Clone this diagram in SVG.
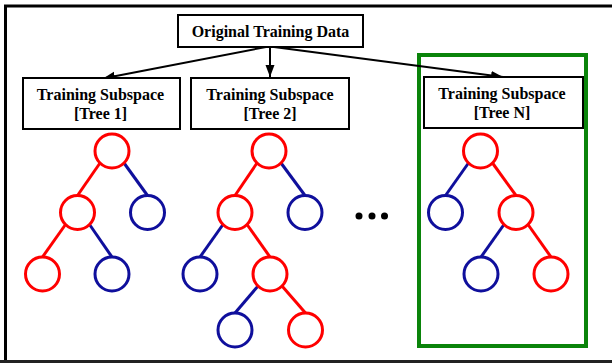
<svg xmlns="http://www.w3.org/2000/svg" width="612" height="363" viewBox="0 0 612 363">
<style>
.box{fill:#fff;stroke:#000;stroke-width:2}
.t{font-family:"Liberation Serif","Times New Roman",serif;font-weight:bold;font-size:16px;fill:#000;text-anchor:middle}
.r{fill:#fff;stroke:#ff0000;stroke-width:3}
.b{fill:#fff;stroke:#0f0f9c;stroke-width:3}
.er{stroke:#ff0000;stroke-width:3;fill:none}
.eb{stroke:#0f0f9c;stroke-width:3;fill:none}
.arr{stroke:#000;stroke-width:2;fill:none;marker-end:url(#ah)}
</style>
<defs>
<marker id="ah" markerUnits="userSpaceOnUse" markerWidth="13" markerHeight="10" refX="12" refY="4.5" orient="auto">
<path d="M0,0 L12,4.5 L0,9 z" fill="#000"/>
</marker>
</defs>
<rect width="612" height="363" fill="#fff"/>
<path d="M5.5,363 V6 H612" fill="none" stroke="#000" stroke-width="3"/>
<line x1="0" y1="361.5" x2="612" y2="361.5" stroke="#222" stroke-width="3"/>
<rect id="frame" x="419" y="55" width="167" height="291" fill="none" stroke="#0a840a" stroke-width="4"/>
<g id="connectors">
<line class="arr" x1="266" y1="47" x2="103" y2="78.5"/>
<line class="arr" x1="270" y1="47" x2="270" y2="77"/>
<line class="arr" x1="274" y1="47" x2="503" y2="77"/>
<line class="er" x1="100" y1="163" x2="77.5" y2="195.5"/>
<line class="eb" x1="124" y1="163" x2="147.5" y2="195.5"/>
<line class="er" x1="65.5" y1="224.5" x2="42.5" y2="257"/>
<line class="eb" x1="89.5" y1="224.5" x2="112" y2="257"/>
<line class="er" x1="257" y1="163" x2="235" y2="195.5"/>
<line class="eb" x1="281" y1="163" x2="305" y2="195.5"/>
<line class="eb" x1="223" y1="224.5" x2="200" y2="257"/>
<line class="er" x1="247" y1="224.5" x2="270" y2="257"/>
<line class="eb" x1="258" y1="286" x2="235" y2="313"/>
<line class="er" x1="282" y1="286" x2="305.5" y2="313"/>
<line class="eb" x1="468.5" y1="163" x2="445.5" y2="195.5"/>
<line class="er" x1="492.5" y1="163" x2="516" y2="195.5"/>
<line class="eb" x1="504" y1="224.5" x2="481" y2="257"/>
<line class="er" x1="528" y1="224.5" x2="551" y2="257"/>
</g>
<g id="root-data">
<rect class="box" x="178" y="15" width="185" height="32"/>
<text class="t" x="270.5" y="37">Original Training Data</text>
</g>
<g id="subspace-1">
<rect class="box" x="23" y="78" width="157" height="51"/>
<text class="t" x="100.5" y="100">Training Subspace</text>
<text class="t" x="100.5" y="119">[Tree 1]</text>
</g>
<g id="subspace-2">
<rect class="box" x="191" y="78" width="158" height="51"/>
<text class="t" x="270" y="100">Training Subspace</text>
<text class="t" x="270" y="119">[Tree 2]</text>
</g>
<g id="subspace-n">
<rect class="box" x="424" y="77" width="159" height="51"/>
<text class="t" x="502" y="99">Training Subspace</text>
<text class="t" x="502" y="118">[Tree N]</text>
</g>
<g id="tree-1">
<circle class="r" cx="112" cy="151" r="17"/>
<circle class="r" cx="77.5" cy="212.5" r="17"/>
<circle class="b" cx="147.5" cy="212.5" r="17"/>
<circle class="r" cx="42.5" cy="274" r="17"/>
<circle class="b" cx="112" cy="274" r="17"/>
</g>
<g id="tree-2">
<circle class="r" cx="269" cy="151" r="17"/>
<circle class="r" cx="235" cy="212.5" r="17"/>
<circle class="b" cx="305" cy="212.5" r="17"/>
<circle class="b" cx="200" cy="274" r="17"/>
<circle class="r" cx="270" cy="274" r="17"/>
<circle class="b" cx="235" cy="330" r="17"/>
<circle class="r" cx="305.5" cy="330" r="17"/>
</g>
<g id="tree-n">
<circle class="r" cx="480.5" cy="151" r="17"/>
<circle class="b" cx="445.5" cy="212.5" r="17"/>
<circle class="r" cx="516" cy="212.5" r="17"/>
<circle class="b" cx="481" cy="274" r="17"/>
<circle class="r" cx="551" cy="274" r="17"/>
</g>
<g id="ellipsis" fill="#000">
<circle cx="359" cy="216" r="3.5"/>
<circle cx="372" cy="216" r="3.5"/>
<circle cx="384.5" cy="216" r="3.5"/>
</g>
</svg>
